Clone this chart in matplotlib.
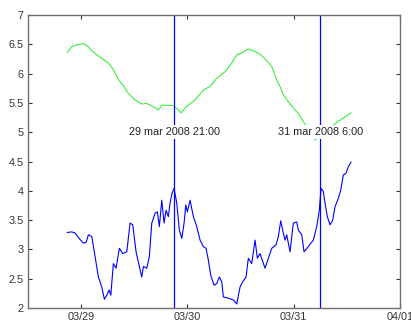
import datetime as dt
import matplotlib
matplotlib.use("Agg")
import matplotlib.pyplot as plt
import matplotlib.dates as mdates

# hours after 29 mar 2008 00:00
t_green = [-3.09, -2.10, -0.97, 0.52, 1.29, 2.42, 3.54, 5.03, 6.16, 7.29, 8.42,
           9.55, 10.68, 12.19, 13.70, 14.83, 15.96, 17.45, 18.22, 19.35, 20.84,
           21.97, 22.58, 23.86, 25.74, 27.61, 29.12, 30.64, 32.51, 34.02, 35.15,
           36.28, 37.77, 38.90, 40.41, 41.93, 43.06, 44.18, 44.93, 45.67, 46.80,
           48.32, 49.06, 50.19, 52.83, 57.80, 60.96]
v_green = [6.36, 6.46, 6.49, 6.51, 6.48, 6.39, 6.32, 6.24, 6.18, 6.07, 5.90,
           5.79, 5.66, 5.55, 5.48, 5.49, 5.45, 5.38, 5.46, 5.46, 5.45,
           5.38, 5.33, 5.44, 5.55, 5.72, 5.78, 5.92, 6.03, 6.18, 6.32,
           6.35, 6.42, 6.39, 6.33, 6.22, 6.12, 5.89, 5.78, 5.64, 5.52,
           5.38, 5.32, 5.18, 4.87, 5.17, 5.33]

t_blue = [-3.09, -2.10, -1.35, -0.23, 0.52, 1.13, 1.65, 2.42, 3.16, 3.91, 4.67,
          5.26, 5.80, 6.32, 6.71, 7.29, 7.90, 8.65, 9.41, 10.32, 11.06, 11.67,
          12.42, 13.16, 13.70, 14.07, 14.83, 15.42, 15.96, 16.71, 17.23, 17.68,
          18.22, 18.74, 19.19, 19.71, 20.09, 20.55, 21.00, 21.61, 22.19, 22.74,
          23.26, 23.64, 24.00, 24.61, 25.36, 26.12, 26.87, 27.61, 28.22, 28.74,
          29.28, 30.03, 30.64, 31.23, 31.77, 32.13, 33.26, 34.39, 35.15, 35.90,
          36.51, 37.25, 37.77, 38.54, 39.29, 39.81, 40.41, 41.54, 42.29, 43.06,
          44.03, 44.55, 45.09, 45.52, 46.06, 46.44, 47.19, 47.93, 48.70, 49.06,
          49.83, 50.35, 51.32, 52.45, 53.22, 53.80, 54.19, 54.71, 55.09, 55.61,
          56.22, 56.83, 57.35, 58.09, 58.64, 59.22, 59.83, 60.35, 60.96]
v_blue = [3.29, 3.30, 3.28, 3.17, 3.11, 3.12, 3.25, 3.22, 2.88, 2.53, 2.36,
          2.15, 2.22, 2.31, 2.22, 2.76, 2.68, 3.02, 2.93, 2.96, 3.45, 3.42,
          2.96, 2.71, 2.53, 2.71, 2.68, 2.88, 3.45, 3.62, 3.64, 3.39,
          3.84, 3.45, 3.67, 3.56, 3.79, 3.96, 4.04, 3.79, 3.33, 3.19,
          3.45, 3.76, 3.64, 3.84, 3.56, 3.39, 3.16, 3.05, 3.02, 2.82,
          2.56, 2.39, 2.42, 2.53, 2.45, 2.19, 2.17, 2.14, 2.07, 2.36,
          2.45, 2.53, 2.85, 2.76, 3.16, 2.85, 2.93, 2.68, 2.85, 3.02,
          3.08, 3.22, 3.49, 3.33, 3.16, 3.25, 2.96, 3.45, 3.47, 3.33,
          3.25, 2.96, 3.05, 3.16, 3.39, 3.67, 4.04, 3.99, 3.79, 3.56,
          3.42, 3.50, 3.73, 3.87, 4.01, 4.27, 4.30, 4.41, 4.49]

events = [dt.datetime(2008, 3, 29, 21, 0), dt.datetime(2008, 3, 31, 6, 0)]
event_labels = ["29 mar 2008 21:00", "31 mar 2008 6:00"]

t0 = dt.datetime(2008, 3, 29)
tg = [t0 + dt.timedelta(hours=h) for h in t_green]
tb = [t0 + dt.timedelta(hours=h) for h in t_blue]

plt.rcParams['font.family'] = ['Liberation Sans', 'DejaVu Sans']
fig = plt.figure(figsize=(4.11, 3.24), dpi=100)
ax = fig.add_axes([0.068, 0.049, 0.905, 0.905])

ax.plot(tg, v_green, color='#22ee22', lw=0.7)
ax.plot(tb, v_blue, color='#0000ff', lw=0.8)
for d, lab in zip(events, event_labels):
    ax.axvline(d, color='#0000ff', lw=0.9)
    ax.text(d, 5.0, lab, ha='center', va='center', fontsize=7.8, zorder=5,
            color='#222222',
            bbox=dict(facecolor='white', edgecolor='none', pad=1.5))

ax.set_xlim(dt.datetime(2008, 3, 28, 12), dt.datetime(2008, 4, 1))
ax.set_ylim(2, 7)
ax.set_yticks([2, 2.5, 3, 3.5, 4, 4.5, 5, 5.5, 6, 6.5, 7])
ax.set_yticklabels(['2', '2.5', '3', '3.5', '4', '4.5', '5', '5.5', '6', '6.5', '7'])
ax.xaxis.set_major_locator(mdates.DayLocator())
ax.xaxis.set_major_formatter(mdates.DateFormatter('%m/%d'))
ax.tick_params(direction='in', length=3, labelsize=7.8, top=True, right=True,
               colors='#333333', pad=3)
for s in ax.spines.values():
    s.set_color('#707070')
    s.set_linewidth(1.0)

fig.savefig('out.png', dpi=100)
